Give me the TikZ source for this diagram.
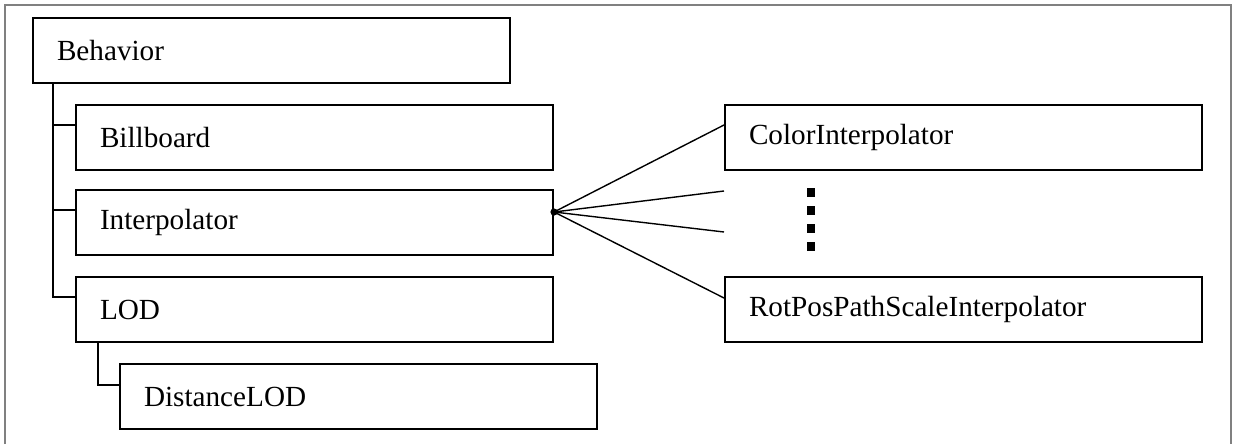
\documentclass[tikz,border=0pt]{standalone}
\usepackage{fontspec}
\setmainfont{Liberation Serif}
\usetikzlibrary{calc}

\begin{document}
\begin{tikzpicture}[x=0.5pt,y=-0.5pt]
    \tikzset{
        classbox/.style={draw,line width=1pt,anchor=north west,minimum height=32.5pt,
            text width=214.5pt,inner xsep=12pt,align=left,font=\fontsize{14.6}{17}\selectfont},
        treeline/.style={line width=1pt},
        fanline/.style={line width=0.7pt},
    }
    \useasboundingbox (0,0) rectangle (1235,444);
    \draw[gray,line width=0.6pt] (5,444) -- (5,5) -- (1231,5) -- (1231,444);
    % class boxes
    \node[classbox] (behavior) at (32,17) {Behavior};
    \node[classbox] (billboard) at (75,104) {Billboard};
    \node[classbox] (interp) at (75,189) {Interpolator};
    \node[classbox] (lod) at (75,276) {LOD};
    \node[classbox] (distlod) at (119,363) {DistanceLOD};
    \node[classbox] (colorint) at (724,104) {ColorInterpolator};
    \node[classbox] (rotpos) at (724,276) {RotPosPathScaleInterpolator};
    % tree
    \coordinate (trunk) at ($(behavior.south west)+(21,0)$);
    \foreach \n in {billboard,interp,lod}
        \draw[treeline] (trunk) |- ($(\n.north west)+(0,21)$);
    \draw[treeline] ($(lod.south west)+(23,0)$) |- ($(distlod.north west)+(0,22)$);
    % fan out of Interpolator
    \coordinate (fan) at ($(interp.north east)+(0,23)$);
    \coordinate (gapA) at ($(colorint.south west)+(0,20)$);
    \coordinate (gapB) at ($(rotpos.north west)+(0,-44)$);
    \draw[fanline] (fan) -- ($(colorint.north west)+(0,21)$);
    \draw[fanline] (fan) -- (gapA);
    \draw[fanline] (fan) -- (gapB);
    \draw[fanline] (fan) -- ($(rotpos.north west)+(0,22)$);
    \fill (fan) circle[radius=1.8pt];
    \foreach \y in {188,206,224,242}
        \fill (807,\y) rectangle ++(8,9);
\end{tikzpicture}
\end{document}
